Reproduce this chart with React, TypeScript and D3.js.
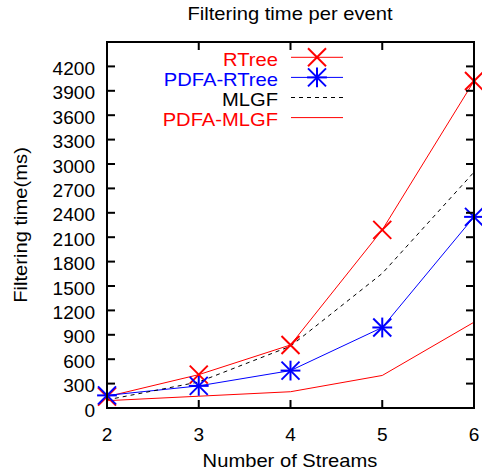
import React from "react";
import * as d3 from "d3";

const streams = [2, 3, 4, 5, 6];
const rtree = [140, 410, 775, 2190, 4020];
const pdfaRtree = [155, 272, 460, 990, 2350];
const mlgf = [100, 320, 760, 1655, 2900];
const pdfaMlgf = [90, 145, 200, 400, 1055];
const yTicks = d3.range(0, 4201, 300);

const W = 482;
const H = 475;
const M = { left: 107, right: 474, top: 42, bottom: 408 };
const FONT = "'Liberation Sans', Arial, sans-serif";
const FS = 18;

type Series = {
  name: string;
  values: number[];
  color: string;
  dash?: string;
  marker?: "x" | "star";
};

const series: Series[] = [
  { name: "RTree", values: rtree, color: "#ff0000", marker: "x" },
  { name: "PDFA-RTree", values: pdfaRtree, color: "#0000ff", marker: "star" },
  { name: "MLGF", values: mlgf, color: "#000000", dash: "4,4" },
  { name: "PDFA-MLGF", values: pdfaMlgf, color: "#ff0000" },
];

// Text with a slightly widened face
function T({
  x,
  y,
  sx = 1.1,
  anchor = "start",
  color = "#000",
  rotate = 0,
  children,
}: {
  x: number;
  y: number;
  sx?: number;
  anchor?: string;
  color?: string;
  rotate?: number;
  children: React.ReactNode;
}) {
  return (
    <text
      transform={`translate(${x},${y}) rotate(${rotate}) scale(${sx},1)`}
      fontSize={FS}
      textAnchor={anchor}
      fill={color}
    >
      {children}
    </text>
  );
}

function Marker({ kind, x, y, color }: { kind?: string; x: number; y: number; color: string }) {
  const r = 9;
  if (kind === "x") {
    return (
      <g stroke={color} strokeWidth={2}>
        <line x1={x - r} y1={y - r} x2={x + r} y2={y + r} />
        <line x1={x - r} y1={y + r} x2={x + r} y2={y - r} />
      </g>
    );
  }
  if (kind === "star") {
    return (
      <g stroke={color} strokeWidth={2}>
        <line x1={x - r} y1={y - r} x2={x + r} y2={y + r} />
        <line x1={x - r} y1={y + r} x2={x + r} y2={y - r} />
        <line x1={x - r * 1.1} y1={y} x2={x + r * 1.1} y2={y} />
        <line x1={x} y1={y - r * 1.1} x2={x} y2={y + r * 1.1} />
      </g>
    );
  }
  return null;
}

export default function App() {
  const x = d3.scaleLinear().domain([2, 6]).range([M.left, M.right]);
  const y = d3.scaleLinear().domain([0, 4500]).range([M.bottom, M.top]);
  const line = d3
    .line<number>()
    .x((_, i) => x(streams[i]))
    .y((d) => y(d));

  const tick = 8;
  const legendY0 = 57.3;
  const legendStep = 20.1;

  return (
    <svg width={W} height={H} style={{ position: "absolute", left: 0, top: 0 }} fontFamily={FONT}>
      <rect width={W} height={H} fill="#fff" />
      <T x={290} y={20} sx={1.12} anchor="middle">
        Filtering time per event
      </T>

      {/* series lines */}
      {series.map((s) => (
        <path
          key={s.name}
          d={line(s.values) || ""}
          fill="none"
          stroke={s.color}
          strokeWidth={1}
          strokeDasharray={s.dash}
        />
      ))}
      {series.map((s) =>
        s.values.map((v, i) => (
          <Marker key={s.name + i} kind={s.marker} x={x(streams[i])} y={y(v)} color={s.color} />
        ))
      )}

      {/* frame and ticks */}
      <g stroke="#000" strokeWidth={2}>
        {yTicks.map((t) => (
          <g key={"y" + t}>
            <line x1={M.left} x2={M.left + tick} y1={y(t)} y2={y(t)} />
            <line x1={M.right} x2={M.right - tick} y1={y(t)} y2={y(t)} />
          </g>
        ))}
        {streams.map((t) => (
          <g key={"x" + t}>
            <line x1={x(t)} x2={x(t)} y1={M.bottom} y2={M.bottom - tick} />
            <line x1={x(t)} x2={x(t)} y1={M.top} y2={M.top + tick} />
          </g>
        ))}
        <rect
          x={M.left}
          y={M.top}
          width={M.right - M.left}
          height={M.bottom - M.top}
          fill="none"
        />
      </g>

      {yTicks.map((t) => (
        <T key={"yl" + t} x={95} y={y(t) + 8.5} sx={1.06} anchor="end">
          {t}
        </T>
      ))}
      {streams.map((t) => (
        <T key={"xl" + t} x={x(t)} y={441} sx={1.06} anchor="middle">
          {t}
        </T>
      ))}

      <T x={290} y={467} sx={1.12} anchor="middle">
        Number of Streams
      </T>
      <T x={27} y={(M.top + M.bottom) / 2} sx={1.12} rotate={-90} anchor="middle">
        Filtering time(ms)
      </T>

      {/* legend */}
      {series.map((s, i) => {
        const ly = legendY0 + i * legendStep;
        return (
          <g key={"lg" + s.name}>
            <T x={278} y={ly + 8.5} sx={1.12} anchor="end" color={s.color}>
              {s.name}
            </T>
            <line
              x1={291}
              x2={343}
              y1={ly}
              y2={ly}
              stroke={s.color}
              strokeWidth={1}
              strokeDasharray={s.dash}
            />
            <Marker kind={s.marker} x={317} y={ly} color={s.color} />
          </g>
        );
      })}
    </svg>
  );
}
